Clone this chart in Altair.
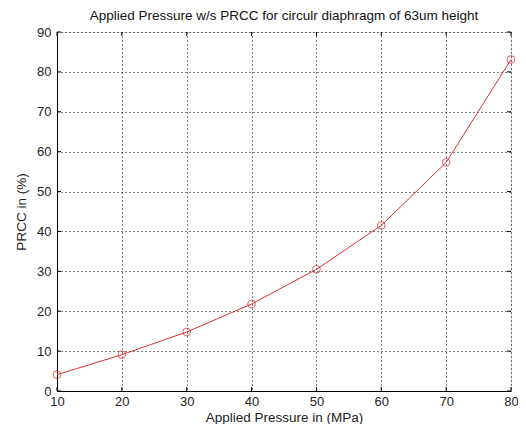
import altair as alt
import pandas as pd

pressure = [10, 20, 30, 40, 50, 60, 70, 80]
prcc = [4.1, 9.1, 14.8, 21.8, 30.5, 41.5, 57.3, 83.1]
x_ticks = [10, 20, 30, 40, 50, 60, 70, 80]
y_ticks = [0, 10, 20, 30, 40, 50, 60, 70, 80, 90]

df = pd.DataFrame({"p": pressure, "v": prcc})
dfx = pd.DataFrame({"t": x_ticks})
dfy = pd.DataFrame({"t": y_ticks})

W, H = 454, 359
font = "Liberation Sans"

xs = alt.Scale(domain=[10, 80], nice=False, zero=False)
ys = alt.Scale(domain=[0, 90], nice=False)

xaxis = alt.Axis(values=x_ticks, grid=True, gridDash=[1, 3], gridColor="black", gridOpacity=1,
                 domainColor="black", tickSize=0, labelPadding=4, labelFontSize=13, labelColor="#222",
                 labelFont=font, labelOverlap=False, labelFlush=False,
                 title="Applied Pressure in (MPa)", titleFont=font,
                 titleFontSize=13.5, titleFontWeight="normal", titleColor="#222", titlePadding=2)
yaxis = alt.Axis(values=y_ticks, grid=True, gridDash=[1, 3], gridColor="black", gridOpacity=1,
                 domainColor="black", tickSize=0, labelPadding=6, labelFontSize=13, labelColor="#222",
                 labelFont=font, labelOverlap=False, labelFlush=False,
                 title="PRCC in (%)", titleFont=font,
                 titleFontSize=13.5, titleFontWeight="normal", titleColor="#222", titlePadding=8)

line = alt.Chart(df).mark_line(color="#e03030", strokeWidth=1).encode(
    x=alt.X("p:Q", scale=xs, axis=xaxis),
    y=alt.Y("v:Q", scale=ys, axis=yaxis),
)
pts = alt.Chart(df).mark_point(shape="circle", filled=False, color="#cc2020", size=60, strokeWidth=1).encode(
    x=alt.X("p:Q", scale=xs, axis=xaxis),
    y=alt.Y("v:Q", scale=ys, axis=yaxis),
)
# inward ticks on all four sides
xt_b = alt.Chart(dfx).mark_rule(color="black").encode(
    x=alt.X("t:Q", scale=xs, axis=xaxis), y=alt.value(H), y2=alt.value(H - 4))
xt_t = alt.Chart(dfx).mark_rule(color="black").encode(
    x=alt.X("t:Q", scale=xs, axis=xaxis), y=alt.value(0), y2=alt.value(4))
yt_l = alt.Chart(dfy).mark_rule(color="black").encode(
    y=alt.Y("t:Q", scale=ys, axis=yaxis), x=alt.value(0), x2=alt.value(4))
yt_r = alt.Chart(dfy).mark_rule(color="black").encode(
    y=alt.Y("t:Q", scale=ys, axis=yaxis), x=alt.value(W), x2=alt.value(W - 4))

chart = alt.layer(line, pts, xt_b, xt_t, yt_l, yt_r).properties(
    width=W, height=H,
    title=alt.TitleParams("Applied Pressure w/s PRCC for circulr diaphragm of 63um height",
                          font=font, fontSize=13.5, fontWeight="normal", color="#111", offset=4),
    autosize=alt.AutoSizeParams(type="none"),
    padding={"left": 49, "top": 24, "right": 7, "bottom": 33},
).configure_view(stroke="black", strokeWidth=1).configure(background="white")

chart.save("out.html", embed_options={"renderer": "svg", "actions": False})
